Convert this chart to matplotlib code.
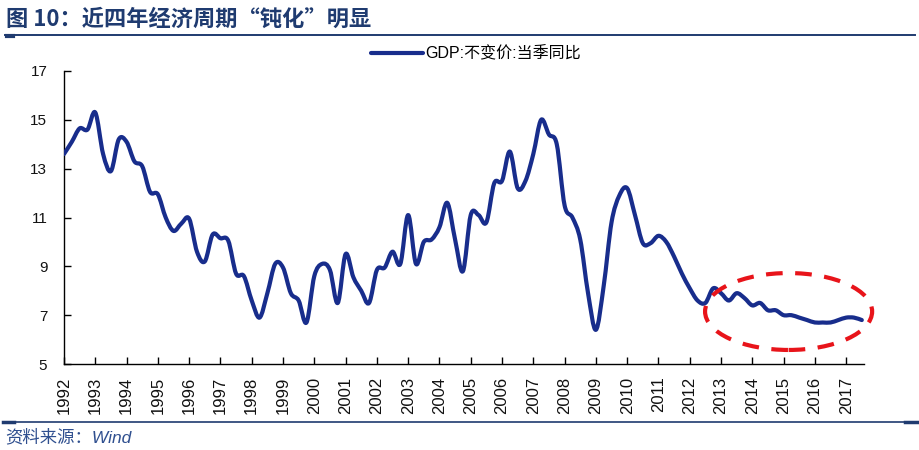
import numpy as np
import matplotlib
matplotlib.use('Agg')
import matplotlib.pyplot as plt
from matplotlib.path import Path
from matplotlib.patches import PathPatch, Ellipse
from matplotlib.lines import Line2D

plt.rcParams['font.family'] = ['Liberation Sans', 'Noto Sans CJK SC', 'DejaVu Sans']

# ---------------- data ----------------
start_year = 1992          # first quarter = 1992Q1, quarterly series
gdp_yoy = [
    13.6, 14.1, 14.65, 14.6,     # 1992
    15.3, 13.6, 12.9, 14.2,      # 1993
    14.1, 13.3, 13.1, 12.05,     # 1994
    11.95, 11.0, 10.45, 10.75,   # 1995
    10.95, 9.6, 9.2, 10.3,       # 1996
    10.15, 10.05, 8.7, 8.6,      # 1997
    7.6, 6.9, 7.9, 9.1,          # 1998
    8.95, 7.9, 7.6, 6.7,         # 1999
    8.6, 9.1, 8.85, 7.5,         # 2000
    9.5, 8.55, 8.0, 7.5,         # 2001
    8.85, 8.95, 9.6, 9.1,        # 2002
    11.1, 9.1, 10.0, 10.1,       # 2003
    10.6, 11.6, 10.1, 8.8,       # 2004
    11.1, 11.1, 10.8, 12.4,      # 2005
    12.5, 13.7, 12.2, 12.5,      # 2006
    13.6, 15.0, 14.4, 14.0,      # 2007
    11.5, 11.0, 10.1, 7.9,       # 2008
    6.4, 8.2, 10.8, 11.9,        # 2009
    12.2, 11.1, 9.95, 9.95,      # 2010
    10.25, 10.0, 9.4, 8.7,       # 2011
    8.1, 7.6, 7.5, 8.1,          # 2012
    7.9, 7.6, 7.9, 7.7,          # 2013
    7.4, 7.5, 7.2, 7.2,          # 2014
    7.0, 7.0, 6.9, 6.8,          # 2015
    6.7, 6.7, 6.7, 6.8,          # 2016
    6.9, 6.9, 6.8,               # 2017
]
year_ticks = list(range(1992, 2018))
y_ticks = [5, 7, 9, 11, 13, 15, 17]
legend_label = 'GDP:不变价:当季同比'
title_text = '图 10：近四年经济周期“钝化”明显'
source_text = '资料来源：Wind'

# ellipse annotation (data coords)
ell_center = (2015.16, 7.15)
ell_width = 5.34
ell_height = 3.15

line_color = '#182D8C'
navy = '#1F3B70'

# ---------------- figure ----------------
fig = plt.figure(figsize=(9.2, 4.5), dpi=100)
ax = fig.add_axes([64 / 920, 1 - 364 / 450, 800 / 920, 293 / 450])

x = start_year + np.arange(len(gdp_yoy)) / 4.0
y = np.asarray(gdp_yoy, dtype=float)

# smoothed line (Excel-like Bezier smoothing through data points)
pts = np.column_stack([x, y])
P = np.vstack([pts[0], pts, pts[-1]])
verts = [pts[0]]
codes = [Path.MOVETO]
for i in range(len(pts) - 1):
    p0, p1, p2, p3 = P[i], P[i + 1], P[i + 2], P[i + 3]
    c1 = p1 + (p2 - p0) / 6.0
    c2 = p2 - (p3 - p1) / 6.0
    verts += [c1, c2, p2]
    codes += [Path.CURVE4] * 3
ax.add_patch(PathPatch(Path(verts, codes), fill=False, edgecolor=line_color,
                       lw=3, capstyle='round', joinstyle='round', zorder=3))

ax.add_patch(Ellipse(ell_center, ell_width, ell_height, fill=False,
                     edgecolor='#E8141A', lw=3, linestyle=(0, (4.0, 3.0)),
                     clip_on=False, zorder=4))

ax.set_xlim(start_year, start_year + 25.57)
ax.set_ylim(5, 17)
ax.set_xticks(year_ticks)
ax.set_xticklabels([str(v) for v in year_ticks], rotation=90)
ax.set_yticks(y_ticks)
ax.set_yticklabels([str(v) for v in y_ticks])

for s in ['top', 'right']:
    ax.spines[s].set_visible(False)
for s in ['left', 'bottom']:
    ax.spines[s].set_linewidth(1.0)
    ax.spines[s].set_color('black')

ax.tick_params(axis='both', direction='in', length=5, width=1, colors='black')
ax.tick_params(axis='y', labelsize=11, pad=12, labelcolor='#111111')
ax.tick_params(axis='x', labelsize=12, pad=9, labelcolor='#111111')

handle = Line2D([], [], color=line_color, lw=3, solid_capstyle='round')
fig.legend(handles=[handle], labels=[legend_label], loc='center',
           bbox_to_anchor=(476 / 920, 1 - 54 / 450), frameon=False,
           fontsize=11.5, handlelength=3.2, handletextpad=0.15)

# title, rules and source
fig.text(6 / 920, 1 - 19 / 450, title_text, fontsize=16, fontweight='bold',
         color=navy, va='center', ha='left',
         family=['Noto Sans CJK SC', 'DejaVu Sans'])
fig.add_artist(Line2D([5 / 920, 915 / 920], [1 - 35 / 450] * 2,
                      transform=fig.transFigure, color=navy, lw=1.4))
fig.add_artist(Line2D([7 / 920, 13 / 920], [1 - 36 / 450] * 2,
                      transform=fig.transFigure, color=navy, lw=3))
fig.add_artist(Line2D([3 / 920, 917 / 920], [1 - 422 / 450] * 2,
                      transform=fig.transFigure, color=navy, lw=1.2))
fig.add_artist(Line2D([3 / 920, 14 / 920], [1 - 422 / 450] * 2,
                      transform=fig.transFigure, color=navy, lw=2.5))
fig.add_artist(Line2D([905 / 920, 917 / 920], [1 - 422 / 450] * 2,
                      transform=fig.transFigure, color=navy, lw=2.5))
fig.text(5 / 920, 1 - 437 / 450, source_text, fontsize=12.5, style='italic',
         color='#2F4F8F', va='center', ha='left')

fig.savefig('out.png', dpi=100)
